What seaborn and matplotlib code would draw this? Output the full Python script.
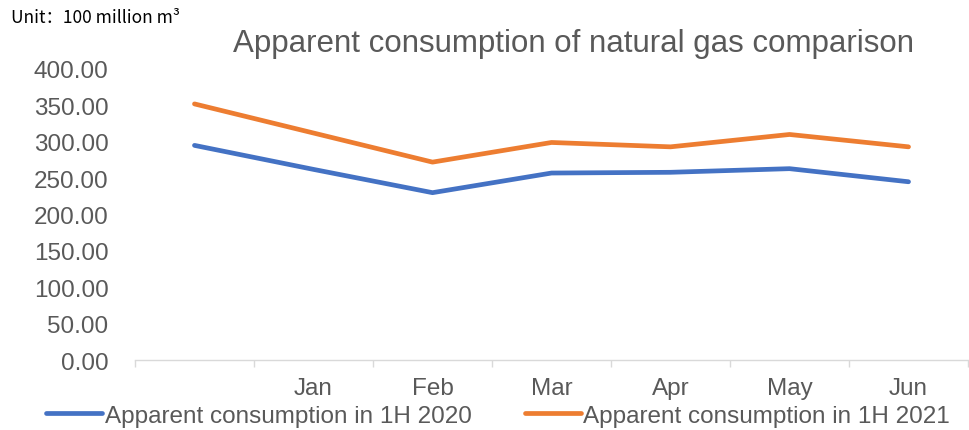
import numpy as np
import pandas as pd
import seaborn as sns
import matplotlib.pyplot as plt
from matplotlib.ticker import FixedLocator, NullFormatter, FixedFormatter

# Data (100 million m3)
months = ["", "Jan", "Feb", "Mar", "Apr", "May", "Jun"]
cons_2020 = [295, 262, 230, 257, 258, 263, 245]
cons_2021 = [352, 312, 272, 299, 293, 310, 293]
series_names = ["Apparent consumption in 1H 2020", "Apparent consumption in 1H 2021"]
y_ticks = [0, 50, 100, 150, 200, 250, 300, 350, 400]

sns.set_theme(style="white")
plt.rcParams['font.family'] = ['Liberation Sans', 'DejaVu Sans']

df = pd.DataFrame({
    "pos": list(range(len(months))) * 2,
    "value": cons_2020 + cons_2021,
    "series": [series_names[0]] * len(months) + [series_names[1]] * len(months),
})

fig = plt.figure(figsize=(9.69, 4.31), dpi=100)
ax = fig.add_axes([0.1393, 0.1624, 0.8597, 0.6752])

sns.lineplot(data=df, x="pos", y="value", hue="series",
             palette=["#4472C4", "#ED7D31"], linewidth=3.4,
             solid_capstyle="round", ax=ax, legend=False)

grey = "#595959"
fs = 17.5
ax.set_xlim(-0.5, len(months) - 0.5)
ax.set_ylim(0, 400)
ax.set_yticks(y_ticks)
ax.set_yticklabels([f"{v:.2f}" for v in y_ticks], color=grey, fontsize=fs)
ax.tick_params(axis="y", length=0, pad=19)

# category boundaries carry the tick marks, labels sit at category centres
ax.xaxis.set_major_locator(FixedLocator(np.arange(-0.5, len(months), 1.0)))
ax.xaxis.set_major_formatter(NullFormatter())
ax.xaxis.set_minor_locator(FixedLocator(np.arange(len(months))))
ax.xaxis.set_minor_formatter(FixedFormatter(months))
ax.tick_params(axis="x", which="major", direction="out", length=5, width=1,
               color="#d9d9d9", bottom=True)
ax.tick_params(axis="x", which="minor", length=0, pad=12, labelsize=fs,
               labelcolor=grey, bottom=True)
ax.set_xlabel("")
ax.set_ylabel("")

for side in ["top", "right", "left"]:
    ax.spines[side].set_visible(False)
ax.spines["bottom"].set_color("#d9d9d9")
ax.spines["bottom"].set_linewidth(1)

fig.text(0.592, 0.898, "Apparent consumption of natural gas comparison",
         ha="center", va="center", fontsize=22.5, color=grey)
fig.text(0.011, 0.958, "Unit：100 million m³", ha="left", va="center",
         fontsize=12.5, color="black",
         family=["Noto Sans CJK SC", "DejaVu Sans"])

handles = [plt.Line2D([], [], color=c, linewidth=3.4, solid_capstyle="round")
           for c in ["#4472C4", "#ED7D31"]]
fig.legend(handles, series_names, loc="center", bbox_to_anchor=(0.514, 0.033),
           ncol=2, frameon=False, fontsize=fs, handlelength=2.3,
           handletextpad=0.1, columnspacing=2.2, labelcolor=grey,
           borderaxespad=0, borderpad=0)

fig.savefig("out.png", dpi=100)
